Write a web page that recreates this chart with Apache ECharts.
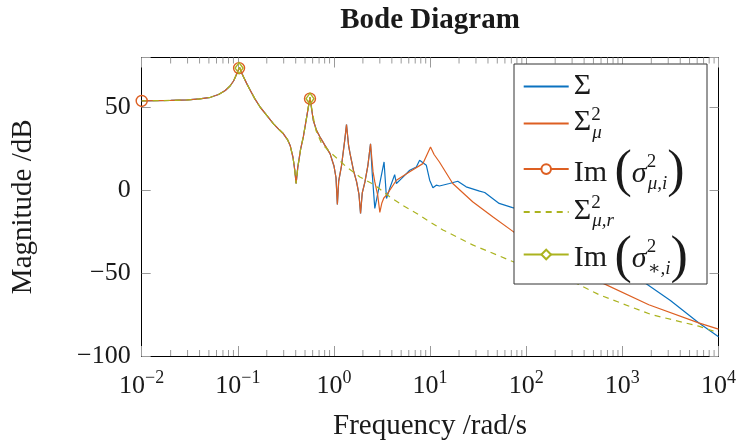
<!DOCTYPE html>
<html>
<head>
<meta charset="utf-8">
<script src="https://cdn.jsdelivr.net/npm/echarts@6/dist/echarts.min.js"></script>
<style>html,body{margin:0;padding:0;background:#fff}#chart{width:740px;height:446px}</style>
</head>
<body>
<div id="chart"></div>
<script>
// ---- data (frequency in rad/s, magnitude in dB) ----
const commonFreq = [0.01,0.02,0.03,0.04,0.052,0.063,0.074,0.083,0.0906,0.097,0.104,0.109,0.115,0.125,0.135,0.15,0.171,0.2,0.235,0.27,0.298,0.33,0.35,0.375,0.39,0.404,0.42,0.45,0.48,0.52,0.545,0.563,0.585,0.61,0.66,0.716,0.8,0.91,1.0,1.05,1.085,1.12,1.2,1.3,1.35,1.42,1.47,1.6,1.72,1.82,1.89,1.97,2.1,2.25,2.4];
const commonMag  = [53.9,54.1,54.4,55.0,56.0,57.7,60.1,62.8,66.0,69.9,74.1,70.9,68.1,63.8,60.1,55.2,50.0,45.1,40.0,36.4,34.0,30.3,27.0,19.7,12.6,4.0,13.6,24.8,32.1,44.0,51.1,56.0,49.1,42.0,35.9,32.1,27.3,22.0,14.6,7.5,-8.6,5.5,15.0,31.1,39.5,26.8,22.0,11.6,5.0,-2.6,-14.0,-1.6,5.0,14.6,28.0];

const sigmaTailFreq = [2.5,2.66,3.32,3.52,3.8,4.28,4.46,5.03,6.14,7.19,7.78,9.14,9.9,10.7,11.6,12.5,15.9,19.4,23.7,32.7,37,52.3,72,100,200,316,500,1000,1740,3160,6210,10000];
const sigmaTailMag  = [10,-11,17.0,-5.0,1.0,9.4,4.0,7.0,12.0,14.0,18.0,15.0,6.0,1.4,3.0,2.5,4.0,5.4,2.0,-0.6,-1.4,-8.0,-10.5,-12.3,-17,-24,-32,-44,-56.2,-66.5,-80.0,-88.4];

const sigmaMuTailFreq = [2.55,2.66,2.85,3.0,3.15,3.3,3.52,4.46,6.14,8.4,10.1,11,12.5,17.2,27.7,44.8,73.3,100,200,570,1884,6210,10000];
const sigmaMuTailMag  = [11,5.0,-3,-13.4,-7.7,-4.7,-3.0,6.0,11.1,16.0,26.0,21.5,17.0,4.0,-7.0,-16.0,-25.0,-29.4,-40.0,-55.0,-69.1,-80.0,-83.8];

const sigmaRHeadEnd = 0.563;
const sigmaRTailFreq = [0.6,0.65,0.745,0.91,1.35,1.86,2.66,3.8,5.22,7.19,9.84,13.6,27.7,72.1,327,570,1990,6210,10000];
const sigmaRTailMag  = [46,36,28.0,23.0,14.0,8.0,3.0,-4.0,-9.3,-13.9,-19.0,-24.0,-33.0,-43.0,-56.0,-63.0,-75.0,-82.0,-86.0];

const imMuFreq = [0.01,0.103,0.563];
const imMuMag  = [53.8,73.6,55.2];
const imStarFreq = [0.103,0.563];
const imStarMag  = [73.6,55.2];

const minorMultipliers = [2,3,4,5,6,7,8,9];
const minorDecades = [0.01,0.1,1,10,100,1000];
const yTicks = [-100,-50,0,50];

// ---- helpers ----
const FONT = "'Liberation Serif','DejaVu Serif',serif";
const pairs = (f, m) => f.map((v, i) => [v, m[i]]);
const sigmaData = pairs(commonFreq, commonMag).concat(pairs(sigmaTailFreq, sigmaTailMag));
const sigmaMuData = pairs(commonFreq, commonMag).concat(pairs(sigmaMuTailFreq, sigmaMuTailMag));
const sigmaRData = pairs(commonFreq, commonMag).filter(p => p[0] <= sigmaRHeadEnd).concat(pairs(sigmaRTailFreq, sigmaRTailMag));
// isolated markers: a blank point before each marker so no line joins them
const isolated = (f, m) => {
  const out = [];
  f.forEach((v, i) => { if (i > 0) out.push([v, '-']); out.push([v, m[i]]); });
  return out;
};
const minorTicks = [];
minorDecades.forEach(d => minorMultipliers.forEach(k => minorTicks.push([k * d, 0])));

const C_BLUE = '#0B72C0', C_ORANGE = '#DD5F22', C_GREEN = '#ABB31F';
const TICK = '#9a9a9a', TXT = '#1a1a1a';

const legendLabels = {
  S: '{b1|Σ}',
  Smu: '{bs|Σ}{sup2|2}{sub2|μ}',
  ImMu: '{bi|Im }{par|(}{si|σ}{sup3|2}{sub3|μ,i}{par|)}',
  Smur: '{bs|Σ}{sup2|2}{sub2|μ,r}',
  ImStar: '{bi|Im }{par|(}{si|σ}{sup3|2}{sub3|∗,i}{par|)}'
};
// every token is top-aligned in a 40px line; "height" fixes its centre at height/2
const tok = (size, h, extra) => Object.assign({
  fontFamily: FONT, fontSize: size, lineHeight: 40, height: h, verticalAlign: 'top', color: TXT
}, extra || {});
const legendRich = {
  b1: tok(30, 40),
  bs: tok(30, 38),
  sup2: tok(19, 22, {width: 1}),
  sub2: tok(19, 58, {fontStyle: 'italic'}),
  bi: tok(30, 48),
  si: tok(30, 50, {fontStyle: 'italic'}),
  sup3: tok(19, 25, {width: 1}),
  sub3: tok(19, 69, {fontStyle: 'italic'}),
  par: tok(52, 47)
};
// one legend per row: [item, top]
const legendRows = [
  [{name: 'S', itemStyle: {opacity: 0}}, 66.4],
  [{name: 'Smu', itemStyle: {opacity: 0}}, 103.6],
  [{name: 'ImMu', itemStyle: {color: '#fff'}}, 146.6],
  [{name: 'Smur', itemStyle: {opacity: 0}}, 192],
  [{name: 'ImStar', itemStyle: {color: '#fff'}}, 232]
];
const legends = legendRows.map(([item, top]) => ({
  orient: 'vertical', left: 522.7, top: top, z: 12,
  itemWidth: 45, itemHeight: 12, itemGap: 0, padding: 0,
  data: [item], selectedMode: false,
  formatter: name => legendLabels[name],
  textStyle: {fontFamily: FONT, fontSize: 30, color: TXT, rich: legendRich}
}));

const chart = echarts.init(document.getElementById('chart'), null, {renderer: 'canvas'});
chart.setOption({
  animation: false,
  backgroundColor: '#fff',
  title: {
    text: 'Bode Diagram', left: 425, top: 1, textAlign: 'center',
    textStyle: {fontFamily: FONT, fontWeight: 'bold', fontSize: 29, color: TXT}
  },
  grid: {left: 141.7, right: 21.5, top: 57.5, bottom: 87.7, containLabel: false},
  graphic: [{
    type: 'rect', z: 10, silent: true,
    shape: {x: 514, y: 64, width: 193, height: 220},
    style: {fill: '#fff', stroke: '#333', lineWidth: 1}
  }],
  xAxis: [{
    type: 'log', logBase: 10, min: 0.01, max: 10000, position: 'bottom',
    name: 'Frequency /rad/s', nameLocation: 'middle', nameGap: 56,
    nameTextStyle: {fontFamily: FONT, fontSize: 29, color: TXT},
    axisLine: {onZero: false, lineStyle: {color: '#000', width: 1}},
    axisTick: {inside: true, length: 10, lineStyle: {color: TICK}},
    splitLine: {show: false},
    axisLabel: {
      margin: 13, color: TXT, fontFamily: FONT,
      formatter: v => {
        const e = Math.round(Math.log10(v));
        return '{b|10}{s|' + (e < 0 ? '\u2212' + (-e) : e) + '}';
      },
      rich: {
        b: {fontFamily: FONT, fontSize: 26, lineHeight: 30, verticalAlign: 'bottom', color: TXT},
        s: {fontFamily: FONT, fontSize: 18, lineHeight: 16, verticalAlign: 'top', color: TXT}
      }
    }
  }, {
    type: 'log', logBase: 10, min: 0.01, max: 10000, position: 'top',
    axisLine: {onZero: false, lineStyle: {color: '#000', width: 1}},
    axisTick: {inside: true, length: 10, lineStyle: {color: TICK}},
    axisLabel: {show: false}, splitLine: {show: false}
  }],
  yAxis: [{
    type: 'value', min: -100, max: 80, interval: 50, position: 'left',
    name: 'Magnitude /dB', nameLocation: 'middle', nameGap: 104,
    nameTextStyle: {fontFamily: FONT, fontSize: 29, color: TXT},
    axisLine: {show: true, onZero: false, lineStyle: {color: '#000', width: 1}},
    axisTick: {show: true, inside: true, length: 9, lineStyle: {color: TICK}},
    splitLine: {show: false},
    axisLabel: {
      margin: 11, fontFamily: FONT, fontSize: 26, color: TXT,
      formatter: v => yTicks.includes(v) ? (v < 0 ? '\u2212' + (-v) : String(v)) : ''
    }
  }, {
    type: 'value', min: -100, max: 80, interval: 50, position: 'right',
    axisLine: {show: true, onZero: false, lineStyle: {color: '#000', width: 1}},
    axisTick: {show: true, inside: true, length: 9, lineStyle: {color: TICK}},
    axisLabel: {show: false}, splitLine: {show: false}
  }],
  legend: legends,
  series: [
    {
      type: 'custom', name: 'minor', silent: true, xAxisIndex: 0, yAxisIndex: 0,
      data: minorTicks, encode: {x: 0, y: 1}, clip: false, z: 1,
      renderItem: (params, api) => {
        const x = api.coord([api.value(0), 0])[0];
        const cs = params.coordSys;
        const st = {stroke: TICK, lineWidth: 1};
        return {type: 'group', children: [
          {type: 'line', shape: {x1: x, y1: cs.y + cs.height, x2: x, y2: cs.y + cs.height - 6}, style: st},
          {type: 'line', shape: {x1: x, y1: cs.y, x2: x, y2: cs.y + 6}, style: st}
        ]};
      }
    },
    {
      name: 'S', type: 'line', data: sigmaData, symbol: 'none', showSymbol: false,
      lineStyle: {color: C_BLUE, width: 1.2}, itemStyle: {color: C_BLUE}, z: 2
    },
    {
      name: 'Smu', type: 'line', data: sigmaMuData, symbol: 'none', showSymbol: false,
      lineStyle: {color: C_ORANGE, width: 1.2}, itemStyle: {color: C_ORANGE}, z: 2
    },
    {
      name: 'ImMu', type: 'line', data: isolated(imMuFreq, imMuMag), connectNulls: false,
      symbol: 'circle', symbolSize: 11, showSymbol: true,
      lineStyle: {color: C_ORANGE, width: 1.2},
      itemStyle: {color: 'rgba(255,255,255,0)', borderColor: C_ORANGE, borderWidth: 1.4}, z: 3
    },
    {
      name: 'Smur', type: 'line', data: sigmaRData, symbol: 'none', showSymbol: false,
      lineStyle: {color: C_GREEN, width: 1.2, type: [6, 5]}, itemStyle: {color: C_GREEN}, z: 3
    },
    {
      name: 'ImStar', type: 'line', data: isolated(imStarFreq, imStarMag), connectNulls: false,
      symbol: 'diamond', symbolSize: [8, 11], showSymbol: true,
      lineStyle: {color: C_GREEN, width: 1.2},
      itemStyle: {color: 'rgba(255,255,255,0)', borderColor: C_GREEN, borderWidth: 1.4}, z: 3
    }
  ]
});
</script>
</body>
</html>
